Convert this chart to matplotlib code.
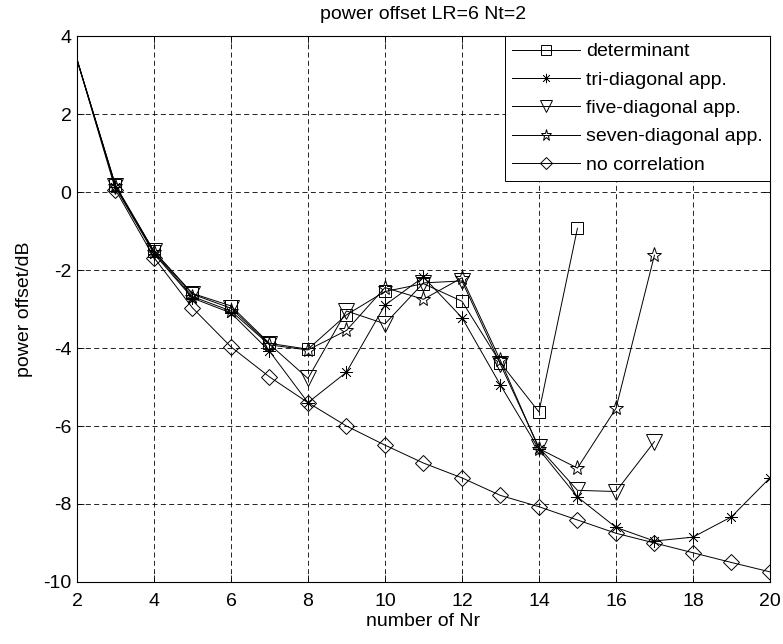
import matplotlib
matplotlib.use("Agg")
import matplotlib.pyplot as plt

plt.rcParams['font.family'] = ['Liberation Sans', 'DejaVu Sans']
plt.rcParams['axes.unicode_minus'] = False

nr_det = [2, 3, 4, 5, 6, 7, 8, 9, 10, 11, 12, 13, 14, 15]
det = [3.4, 0.18, -1.52, -2.6, -2.92, -3.88, -4.03, -3.15, -2.55, -2.35, -2.8, -4.38, -5.64, -0.93]

nr_tri = [2, 3, 4, 5, 6, 7, 8, 9, 10, 11, 12, 13, 14, 15, 16, 17, 18, 19, 20]
tri = [3.4, 0.12, -1.58, -2.72, -3.1, -4.08, -5.4, -4.62, -2.9, -2.18, -3.22, -4.95, -6.6, -7.82, -8.6, -8.95, -8.85, -8.33, -7.33]

nr_five = [2, 3, 4, 5, 6, 7, 8, 9, 10, 11, 12, 13, 14, 15, 16, 17]
five = [3.4, 0.16, -1.52, -2.62, -2.98, -3.9, -4.78, -3.05, -3.38, -2.33, -2.28, -4.42, -6.55, -7.65, -7.68, -6.4]

nr_seven = [2, 3, 4, 5, 6, 7, 8, 9, 10, 11, 12, 13, 14, 15, 16, 17]
seven = [3.4, 0.15, -1.55, -2.68, -3.05, -3.92, -4.05, -3.55, -2.45, -2.75, -2.2, -4.32, -6.58, -7.08, -5.55, -1.62]

nr_nocorr = [2, 3, 4, 5, 6, 7, 8, 9, 10, 11, 12, 13, 14, 15, 16, 17, 18, 19, 20]
nocorr = [3.4, 0.06, -1.68, -2.97, -3.97, -4.74, -5.4, -6.0, -6.49, -6.95, -7.33, -7.78, -8.07, -8.41, -8.75, -9.0, -9.25, -9.5, -9.74]

labels = ['determinant', 'tri-diagonal app.', 'five-diagonal app.', 'seven-diagonal app.', 'no correlation']

FS = 14

fig = plt.figure(figsize=(7.83, 6.44), dpi=100)
ax = fig.add_axes([0.0983, 0.0963, 0.885, 0.8477])

common = dict(color='black', lw=0.7, markerfacecolor='none', markeredgecolor='black',
              markeredgewidth=0.7, markevery=slice(1, None))
ax.plot(nr_det, det, marker='s', markersize=9, label=labels[0], **common)
ax.plot(nr_tri, tri, marker=(8, 2, 0), markersize=9, label=labels[1], **dict(common, markeredgewidth=0.5))
ax.plot(nr_five, five, marker='v', markersize=11, label=labels[2], **common)
ax.plot(nr_seven, seven, marker='*', markersize=11, label=labels[3], **common)
ax.plot(nr_nocorr, nocorr, marker='D', markersize=8, label=labels[4], **common)

ax.set_xlim(2, 20)
ax.set_ylim(-10, 4)
ax.set_xticks(range(2, 21, 2))
ax.set_yticks(range(-10, 5, 2))
ax.grid(True, color='black', linestyle=(0, (6, 4)), lw=0.6)
ax.tick_params(direction='in', top=True, right=True, labelsize=FS, length=5, width=0.6)
ax.tick_params(axis='x', pad=8)
ax.tick_params(axis='y', pad=4)
for s in ax.spines.values():
    s.set_linewidth(0.8)

ax.set_title('power offset LR=6 Nt=2', fontsize=FS, pad=12)
ax.set_xlabel('number of Nr', fontsize=FS, labelpad=2)
ax.set_ylabel('power offset/dB', fontsize=FS, labelpad=7)

leg = ax.legend(loc='upper right', fancybox=False, edgecolor='black', framealpha=1,
                fontsize=FS, handlelength=3.5, borderaxespad=0, labelspacing=0.55,
                handletextpad=0.35, borderpad=0.35, markerscale=0.75)
leg.get_frame().set_linewidth(0.7)

fig.savefig('out.png', dpi=100)
